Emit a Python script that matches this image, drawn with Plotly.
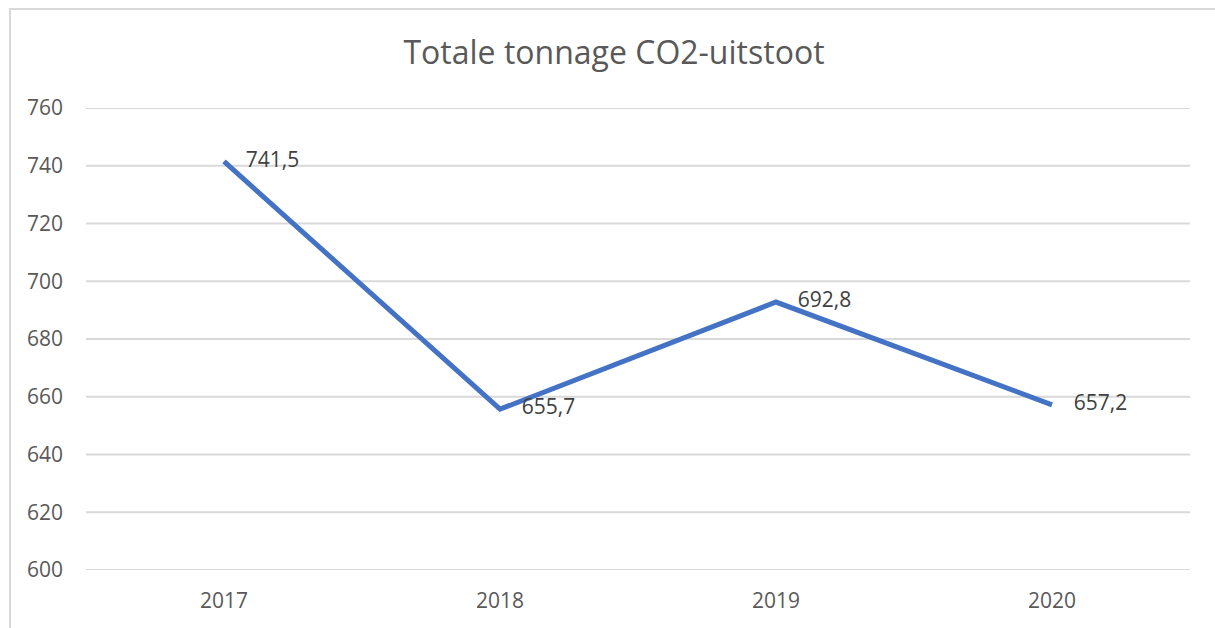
import plotly.graph_objects as go

# data
jaren = ["2017", "2018", "2019", "2020"]
uitstoot = [741.5, 655.7, 692.8, 657.2]
y_ticks = [600, 620, 640, 660, 680, 700, 720, 740, 760]

W, H = 1215, 628
L, R, T, B = 86, 25, 108, 58
pw, ph = W - L - R, H - T - B

fig = go.Figure()
fig.add_trace(go.Scatter(
    x=jaren,
    y=uitstoot,
    mode="lines+text",
    line=dict(color="#4472C4", width=5),
    texttemplate="\u00a0\u00a0\u00a0\u00a0%{y:.1f}",
    textposition="middle right",
    textfont=dict(family="Open Sans", size=21, color="#404040"),
    cliponaxis=False,
    showlegend=False,
))

# gridlines as shapes so that the edge lines (600 and 760) are drawn too
grid = [dict(type="line", xref="paper", yref="y", x0=0, x1=1, y0=v, y1=v,
             line=dict(color="#d9d9d9", width=2), layer="below")
        for v in y_ticks]

fig.update_layout(
    width=W, height=H,
    margin=dict(l=L, r=R, t=T, b=B),
    paper_bgcolor="white",
    plot_bgcolor="white",
    separators=",.",
    title=dict(
        text="Totale tonnage CO2-uitstoot",
        x=(614 - L) / pw, xref="paper", xanchor="center",
        y=1 - 53 / H, yanchor="middle",
        font=dict(family="Open Sans", size=32, color="#595959"),
    ),
    xaxis=dict(
        type="category",
        range=[-0.5, 3.5],
        showgrid=False,
        showline=False,
        zeroline=False,
        ticks="",
        ticklabelstandoff=16,
        tickfont=dict(family="Open Sans", size=21, color="#595959"),
    ),
    yaxis=dict(
        range=[600, 760],
        tickvals=y_ticks,
        showgrid=False,
        zeroline=False,
        showline=False,
        ticks="",
        ticklabelstandoff=22,
        tickfont=dict(family="Open Sans", size=21, color="#595959"),
    ),
    shapes=grid + [dict(
        type="rect", xref="paper", yref="paper",
        x0=(10 - L) / pw, x1=1.2,
        y0=-0.2, y1=(H - B - 9) / ph,
        line=dict(color="#d9d9d9", width=2),
        layer="below",
    )],
)

fig.write_html("out.html", config={"displayModeBar": False},
               post_script="document.body.style.margin='0';")
